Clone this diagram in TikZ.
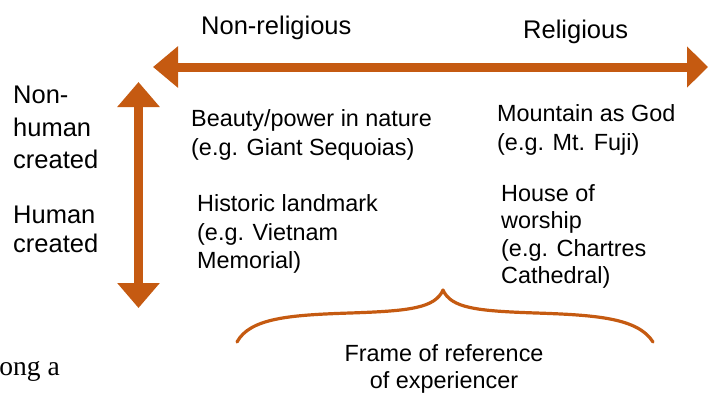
\documentclass[tikz,border=0pt]{standalone}
\usepackage{fontspec}
\setmainfont{Liberation Sans}
\newfontfamily\serifface{Liberation Serif}
\usetikzlibrary{arrows.meta}
\definecolor{arrorange}{RGB}{197,90,17}
\newcommand{\fs}{\rule{0pt}{20pt}}
\begin{document}
\begin{tikzpicture}[x=1pt,y=-1pt,
  txt/.style={anchor=north west, inner sep=0pt, align=left, text=black},
  body/.style={txt, font=\fontsize{23.4}{28.5}\selectfont},
  headtxt/.style={txt, font=\fontsize{25.5}{30}\selectfont},
  bigarrow/.style={draw=arrorange, fill=arrorange, line width=9pt},
  bracestyle/.style={draw=arrorange, line width=3.2pt, line cap=round, line join=round},
]
\useasboundingbox (0,0) rectangle (709,394);

% axes
\coordinate (hl) at (153,67);
\coordinate (hr) at (708,67);
\draw[bigarrow, {Triangle[length=25pt,width=40pt]}-{Triangle[length=21pt,width=40pt]}] (hl) -- (hr);
\coordinate (vt) at (138.5,82);
\coordinate (vb) at (138.5,308);
\draw[bigarrow, {Triangle[length=25pt,width=41pt]}-{Triangle[length=25pt,width=41pt]}] (vt) -- (vb);

% headings
\node[headtxt] (nonrel) at (201,14.3) {\fs Non-religious};
\node[headtxt] (rel) at (523,18.3) {\fs Religious};
\node[headtxt, font=\fontsize{25.5}{32.5}\selectfont] (nonhuman) at (13,83.3) {\fs Non-\\human\\created};
\node[headtxt, font=\fontsize{25.5}{28.5}\selectfont] (human) at (13,203.3) {\fs Human\\created};

% cells
\node[body, font=\fontsize{23.4}{29}\selectfont] (beauty) at (191,106.7) {\fs Beauty/power in nature\\(e.g. Giant Sequoias)};
\node[body, font=\fontsize{23.4}{28.3}\selectfont] (mountain) at (497,101.7) {\fs Mountain as God\\(e.g. Mt. Fuji)};
\node[body, font=\fontsize{23.4}{28.2}\selectfont] (historic) at (197,191.7) {\fs Historic landmark\\(e.g. Vietnam\\Memorial)};
\node[body, font=\fontsize{23.4}{27.4}\selectfont] (house) at (501,181) {\fs House of\\worship\\(e.g. Chartres\\Cathedral)};

% brace
\draw[bracestyle] (237,342) .. controls (250,318) and (290,315) .. (350,313)
  .. controls (410,311) and (435,308) .. (443,290)
  .. controls (451,308) and (476,311) .. (536,313)
  .. controls (596,315) and (638,318) .. (653,342);
\node[txt, anchor=north, align=center, font=\fontsize{23.4}{26.6}\selectfont] (frame) at (444,341.7) {\fs Frame of reference\\of experiencer};

% cut-off text
\node[anchor=base east, inner sep=0pt, font=\serifface\fontsize{27.5}{30}\selectfont] (cut) at (60,375) {ong a};
\end{tikzpicture}
\end{document}
